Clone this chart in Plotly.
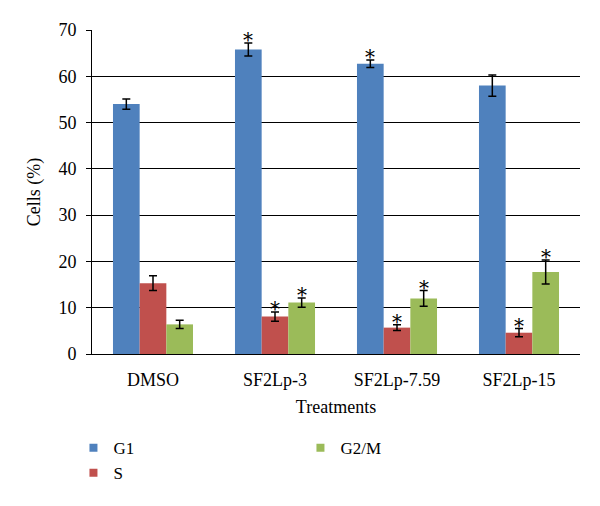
import plotly.graph_objects as go

categories = ["DMSO", "SF2Lp-3", "SF2Lp-7.59", "SF2Lp-15"]
g1 = [54.0, 65.8, 62.7, 58.0]
g1_err = [1.1, 1.4, 0.8, 2.3]
s = [15.3, 8.1, 5.7, 4.6]
s_err = [1.6, 1.0, 0.6, 0.9]
g2m = [6.4, 11.1, 12.0, 17.7]
g2m_err = [0.9, 1.0, 1.7, 2.6]
sig_g1 = [False, True, True, False]
sig_s = [False, True, True, True]
sig_g2m = [False, True, True, True]
yticks = [0, 10, 20, 30, 40, 50, 60, 70]

FONT = "Liberation Serif"
bargap = 0.344
bw = (1 - bargap) / 3

series = [
    ("G1", g1, g1_err, sig_g1, "#4F81BD", 1),
    ("S", s, s_err, sig_s, "#C0504D", 3),
    ("G2/M", g2m, g2m_err, sig_g2m, "#9BBB59", 2),
]

fig = go.Figure()
annotations = []
for i, (name, vals, errs, sig, color, rank) in enumerate(series):
    fig.add_trace(go.Bar(
        name=name, x=categories, y=vals, marker_color=color,
        marker_line_width=0, showlegend=False, hoverinfo="skip",
        error_y=dict(type="data", array=errs, color="black", thickness=1.5, width=4),
    ))
    off = (i - 1) * bw
    for j, flag in enumerate(sig):
        if flag:
            annotations.append(dict(
                x=j + off, y=vals[j] + errs[j], xref="x", yref="y",
                text="*", showarrow=False, yanchor="bottom", yshift=-11,
                font=dict(family="DejaVu Serif", size=20, color="black"),
            ))

# legend entries (small square swatches)
for i, (name, vals, errs, sig, color, rank) in enumerate(series):
    fig.add_trace(go.Scatter(
        name=name, x=[None], y=[None], mode="markers",
        marker=dict(symbol="square", size=8, color=color),
        legendrank=rank, showlegend=True,
    ))

fig.update_layout(
    width=600, height=506,
    margin=dict(l=92, r=20, t=30, b=152, autoexpand=False),
    paper_bgcolor="white", plot_bgcolor="white",
    barmode="group", bargap=bargap, bargroupgap=0,
    font=dict(family=FONT, size=18, color="black"),
    annotations=annotations,
    legend=dict(
        orientation="h", x=-0.038, xanchor="left", y=-0.235, yanchor="top",
        entrywidth=182, font=dict(family=FONT, size=17),
        itemwidth=30, tracegroupgap=0,
    ),
    showlegend=True,
)
fig.update_xaxes(
    showline=True, linecolor="black", linewidth=1, ticks="",
    ticklabelstandoff=9,
    title=dict(text="Treatments", font=dict(family=FONT, size=18), standoff=11),
    tickfont=dict(family=FONT, size=18),
)
fig.update_yaxes(
    range=[0, 70], tickvals=yticks, showgrid=True, gridcolor="black", gridwidth=1,
    showline=True, linecolor="black", linewidth=1,
    ticks="outside", ticklen=5, tickcolor="black", ticklabelstandoff=6,
    title=dict(text="Cells (%)", font=dict(family=FONT, size=18), standoff=13),
    tickfont=dict(family=FONT, size=18), zeroline=False,
)
fig.write_html("out.html", config={"displayModeBar": False},
               post_script="document.body.style.margin='0';")
